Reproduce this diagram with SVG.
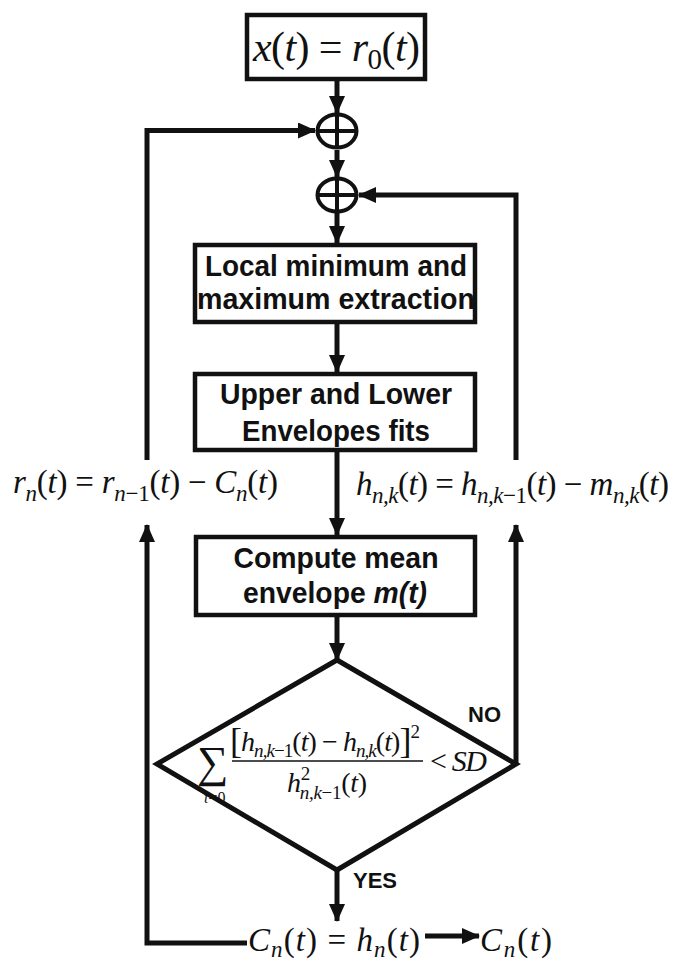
<svg xmlns="http://www.w3.org/2000/svg" width="676" height="963" viewBox="0 0 676 963">
<style>
.box{fill:#fff;stroke:#111;stroke-width:4.5}
.ln{fill:none;stroke:#111;stroke-width:5}
.thin{fill:none;stroke:#111;stroke-width:1.6}
.lbl{font-family:"Liberation Sans",Arial,sans-serif;font-weight:bold;font-size:30px;fill:#111;text-anchor:middle}
.yn{font-family:"Liberation Sans",Arial,sans-serif;font-weight:bold;font-size:22px;fill:#111}
.m{font-family:"Liberation Serif","Times New Roman",serif;font-size:33px;fill:#111}
.i{font-style:italic}
.s{font-size:23px}
.d{font-size:28px}
.ds{font-size:19px}
</style>
<defs>
<marker id="ah" viewBox="0 0 18 16" refX="17" refY="8" markerWidth="18" markerHeight="16" markerUnits="userSpaceOnUse" orient="auto">
<path d="M0,0 L18,8 L0,16 z" fill="#111"/>
</marker>
</defs>
<rect width="676" height="963" fill="#fff"/>

<g id="connectors">
<line class="ln" x1="337" y1="81" x2="337" y2="113" marker-end="url(#ah)"/>
<line class="ln" x1="337" y1="150" x2="337" y2="177" marker-end="url(#ah)"/>
<line class="ln" x1="337" y1="213" x2="337" y2="243" marker-end="url(#ah)"/>
<line class="ln" x1="337" y1="324" x2="337" y2="372" marker-end="url(#ah)"/>
<line class="ln" x1="337" y1="452" x2="337" y2="535" marker-end="url(#ah)"/>
<line class="ln" x1="337" y1="617" x2="337" y2="660" marker-end="url(#ah)"/>
<line class="ln" x1="337" y1="870" x2="337" y2="921" marker-end="url(#ah)"/>
<path class="ln" d="M516,764 V525" marker-end="url(#ah)"/>
<path class="ln" d="M516,460 V195 H359" marker-end="url(#ah)"/>
<path class="ln" d="M247,943 H147 V525" marker-end="url(#ah)"/>
<path class="ln" d="M147,460 V130.5 H315" marker-end="url(#ah)"/>
<line class="ln" x1="425" y1="936" x2="479" y2="936" marker-end="url(#ah)"/>
</g>

<g id="input">
<rect class="box" x="247" y="15" width="178" height="64"/>
<text class="m" x="253" y="61" style="font-size:42px" textLength="167"><tspan class="i">x</tspan>(<tspan class="i">t</tspan>) = <tspan class="i">r</tspan><tspan font-size="29" dy="8">0</tspan><tspan dy="-8">(</tspan><tspan class="i">t</tspan>)</text>
</g>

<g id="sum1">
<ellipse cx="337" cy="131" rx="19.5" ry="16.5" fill="#fff" stroke="#111" stroke-width="4"/>
<line x1="317.5" y1="131" x2="356.5" y2="131" stroke="#111" stroke-width="4"/>
<line x1="337" y1="114.5" x2="337" y2="147.5" stroke="#111" stroke-width="4"/>
</g>

<g id="sum2">
<ellipse cx="337" cy="195" rx="19.5" ry="16.5" fill="#fff" stroke="#111" stroke-width="4"/>
<line x1="317.5" y1="195" x2="356.5" y2="195" stroke="#111" stroke-width="4"/>
<line x1="337" y1="178.5" x2="337" y2="211.5" stroke="#111" stroke-width="4"/>
</g>

<g id="extrema">
<rect class="box" x="195" y="245" width="280" height="77"/>
<text class="lbl" x="336" y="276" textLength="262" lengthAdjust="spacingAndGlyphs">Local minimum and</text>
<text class="lbl" x="336" y="309" textLength="278" lengthAdjust="spacingAndGlyphs">maximum extraction</text>
</g>

<g id="envelopes">
<rect class="box" x="195" y="374" width="280" height="76"/>
<text class="lbl" x="336" y="404" textLength="232" lengthAdjust="spacingAndGlyphs">Upper and Lower</text>
<text class="lbl" x="336" y="441" textLength="188" lengthAdjust="spacingAndGlyphs">Envelopes fits</text>
</g>

<g id="mean">
<rect class="box" x="196" y="537" width="279" height="78"/>
<text class="lbl" x="336" y="568" textLength="205" lengthAdjust="spacingAndGlyphs">Compute mean</text>
<text class="lbl" x="335" y="603" textLength="184" lengthAdjust="spacingAndGlyphs">envelope <tspan font-style="italic">m(t)</tspan></text>
</g>

<g id="residual-update">
<text class="m" x="13" y="493" textLength="265"><tspan class="i">r</tspan><tspan class="s i" dy="8">n</tspan><tspan dy="-8">(</tspan><tspan class="i">t</tspan>) = <tspan class="i">r</tspan><tspan class="s i" dy="8">n</tspan><tspan class="s">−1</tspan><tspan dy="-8">(</tspan><tspan class="i">t</tspan>) − <tspan class="i">C</tspan><tspan class="s i" dy="8">n</tspan><tspan dy="-8">(</tspan><tspan class="i">t</tspan>)</text>
</g>

<g id="sift-update">
<text class="m" x="356" y="495" textLength="313"><tspan class="i">h</tspan><tspan class="s i" dy="8">n,k</tspan><tspan dy="-8">(</tspan><tspan class="i">t</tspan>) = <tspan class="i">h</tspan><tspan class="s i" dy="8">n,k</tspan><tspan class="s">−1</tspan><tspan dy="-8">(</tspan><tspan class="i">t</tspan>) − <tspan class="i">m</tspan><tspan class="s i" dy="8">n,k</tspan><tspan dy="-8">(</tspan><tspan class="i">t</tspan>)</text>
</g>

<g id="decision">
<polygon points="337,660 516,764 337,870 157,764" fill="none" stroke="#111" stroke-width="5" stroke-linejoin="miter"/>
<text class="m" x="197" y="777" style="font-size:44px">∑</text>
<text class="m" x="204" y="803" style="font-size:16px"><tspan class="i">t</tspan>=0</text>
<text class="m d" x="230" y="751" textLength="190"><tspan font-size="36" dy="2">[</tspan><tspan class="i" dy="-2">h</tspan><tspan class="ds i" dy="6">n,k</tspan><tspan class="ds">−1</tspan><tspan dy="-6">(</tspan><tspan class="i">t</tspan>) − <tspan class="i">h</tspan><tspan class="ds i" dy="6">n,k</tspan><tspan dy="-6">(</tspan><tspan class="i">t</tspan>)<tspan font-size="36" dy="2">]</tspan><tspan class="ds" dy="-15">2</tspan></text>
<line class="thin" x1="232" y1="761" x2="423" y2="761"/>
<text class="m d" x="287" y="792" textLength="80"><tspan class="i">h</tspan><tspan class="ds" dy="-12">2</tspan><tspan class="ds i" dx="-10" dy="19">n,k</tspan><tspan class="ds">−1</tspan><tspan dy="-7">(</tspan><tspan class="i">t</tspan>)</text>
<text class="m" x="430" y="771" style="font-size:30px" textLength="57">&lt; <tspan class="i">SD</tspan></text>
<text class="yn" x="468" y="722">NO</text>
<text class="yn" x="353" y="888">YES</text>
</g>

<g id="imf">
<text class="m" x="248" y="951" textLength="172"><tspan class="i">C</tspan><tspan class="s i" dy="6">n</tspan><tspan dy="-6">(</tspan><tspan class="i">t</tspan>) = <tspan class="i">h</tspan><tspan class="s i" dy="6">n</tspan><tspan dy="-6">(</tspan><tspan class="i">t</tspan>)</text>
</g>

<g id="output">
<text class="m" x="480" y="951" textLength="72"><tspan class="i">C</tspan><tspan class="s i" dy="6">n</tspan><tspan dy="-6">(</tspan><tspan class="i">t</tspan>)</text>
</g>
</svg>
